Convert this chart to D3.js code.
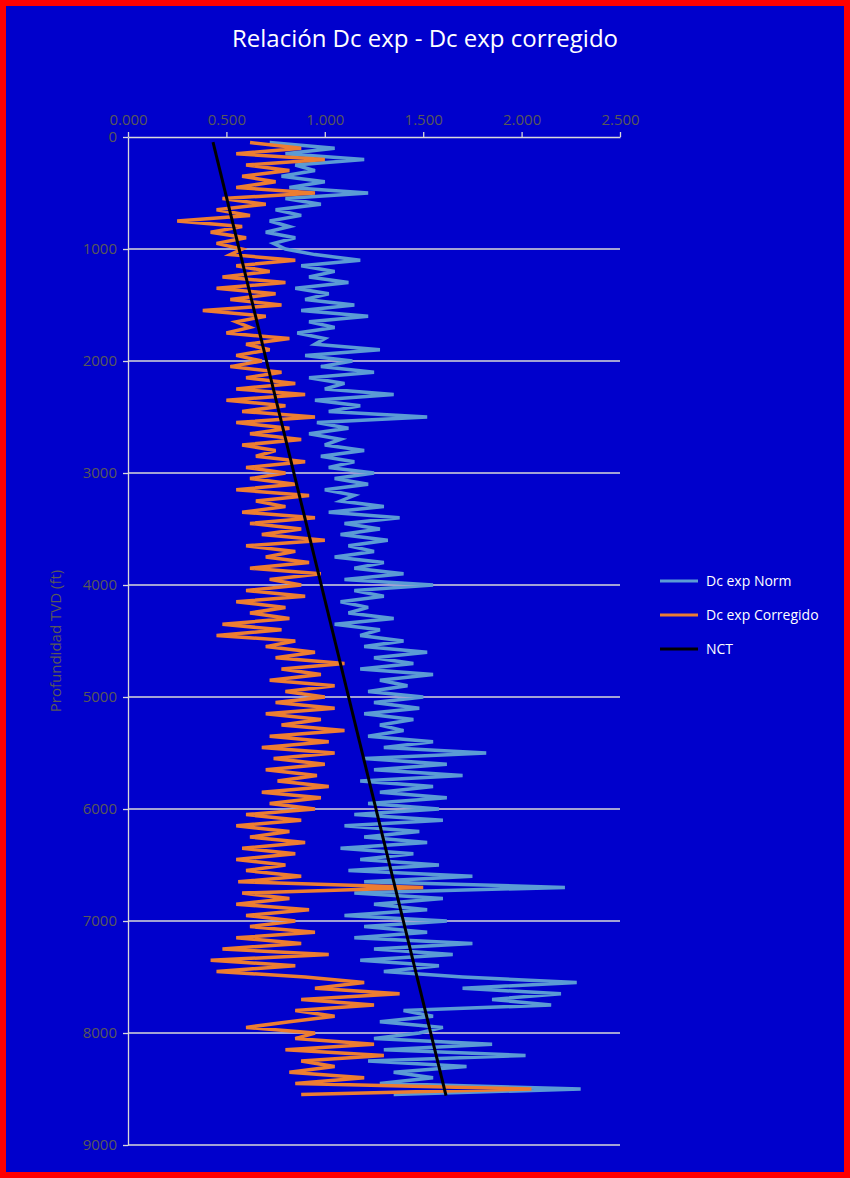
<!DOCTYPE html>
<html><head><meta charset="utf-8">
<script src="https://cdn.jsdelivr.net/npm/d3@7"></script>
<style>
body{margin:0;background:#fff;}
</style></head>
<body><div id="chart"></div>
<script>
// depths every 50 ft, 50..8550
const depths = d3.range(50, 8551, 50);
const dcNorm = [
  0.72,1.05,0.80,1.20,0.85,0.95,0.78,1.00,0.82,1.22,
  0.80,0.98,0.75,0.88,0.72,0.82,0.70,0.85,0.74,0.80,
  0.95,1.18,0.88,1.05,0.92,1.12,0.85,1.02,0.90,1.15,
  0.88,1.22,0.92,1.05,0.86,1.00,0.95,1.28,0.90,1.14,
  0.98,1.25,0.92,1.10,1.00,1.35,0.95,1.18,1.02,1.52,
  0.96,1.12,0.92,1.08,1.00,1.20,0.98,1.15,1.02,1.25,
  1.05,1.22,1.00,1.15,1.08,1.30,1.02,1.38,1.10,1.28,
  1.08,1.32,1.12,1.25,1.05,1.30,1.15,1.40,1.10,1.55,
  1.15,1.30,1.08,1.22,1.12,1.35,1.05,1.28,1.18,1.40,
  1.20,1.52,1.25,1.45,1.18,1.55,1.28,1.42,1.22,1.50,
  1.25,1.48,1.20,1.45,1.28,1.40,1.22,1.55,1.30,1.82,
  1.20,1.62,1.25,1.70,1.18,1.55,1.28,1.62,1.22,1.58,
  1.15,1.60,1.10,1.48,1.20,1.52,1.08,1.45,1.18,1.58,
  1.12,1.75,1.20,2.22,1.15,1.60,1.25,1.52,1.10,1.62,
  1.20,1.52,1.15,1.75,1.25,1.65,1.18,1.58,1.30,1.70,
  2.28,1.70,2.20,1.85,2.15,1.40,1.55,1.28,1.60,1.48,
  1.25,1.85,1.30,2.02,1.22,1.72,1.35,1.55,1.28,2.30,
  1.35
];
const dcCorr = [
  0.62,0.88,0.55,1.00,0.60,0.82,0.58,0.75,0.55,0.95,
  0.48,0.70,0.45,0.62,0.25,0.58,0.42,0.60,0.45,0.58,
  0.52,0.85,0.55,0.72,0.48,0.80,0.45,0.75,0.52,0.78,
  0.38,0.70,0.55,0.62,0.50,0.82,0.60,0.72,0.55,0.68,
  0.52,0.78,0.60,0.85,0.55,0.90,0.50,0.80,0.58,0.95,
  0.55,0.82,0.62,0.88,0.58,0.75,0.65,0.90,0.60,0.80,
  0.62,0.85,0.55,0.92,0.65,0.80,0.58,0.95,0.62,0.88,
  0.68,1.00,0.60,0.85,0.70,0.92,0.62,0.98,0.72,0.88,
  0.60,0.90,0.55,0.80,0.62,0.82,0.48,0.78,0.45,0.85,
  0.70,0.95,0.75,1.10,0.78,0.98,0.72,1.05,0.80,1.00,
  0.75,1.05,0.70,0.98,0.78,1.10,0.72,1.02,0.68,1.05,
  0.74,1.00,0.70,0.96,0.76,1.02,0.68,0.98,0.72,0.95,
  0.60,0.88,0.55,0.82,0.62,0.90,0.58,0.85,0.55,0.80,
  0.60,0.88,0.56,1.50,0.58,0.82,0.55,0.92,0.60,0.85,
  0.62,0.95,0.55,0.88,0.48,1.02,0.42,0.85,0.45,0.90,
  1.20,0.95,1.38,0.88,1.25,0.85,1.05,0.82,0.60,0.95,
  0.85,1.25,0.80,1.30,0.88,1.05,0.82,1.20,0.85,2.05,
  0.88
];
const nctDepths = [45, 8560];
const nctValues = [0.432, 1.616];
const xTicks = [0, 0.5, 1, 1.5, 2, 2.5];
const yTicks = [0,1000,2000,3000,4000,5000,6000,7000,8000,9000];
const seriesNames = ["Dc exp Norm", "Dc exp Corregido", "NCT"];
const seriesColors = ["#5B9BD5", "#ED7D31", "#000000"];

const W = 850, H = 1178;
const margin = { top: 137, left: 128, right: 230, bottom: 33 };
const width = W - margin.left - margin.right, height = H - margin.top - margin.bottom;

const svg = d3.select("#chart").append("svg").attr("width", W).attr("height", H);
svg.append("rect").attr("x", 3).attr("y", 3).attr("width", W - 6).attr("height", H - 6)
  .attr("fill", "#0000CC").attr("stroke", "#FF0000").attr("stroke-width", 6);

svg.append("text").attr("x", W / 2).attr("y", 47).attr("text-anchor", "middle")
  .attr("fill", "#fff").style("font", "24px 'Open Sans', sans-serif")
  .text("Relación Dc exp - Dc exp corregido");

const g = svg.append("g").attr("transform", `translate(${margin.left},${margin.top})`);
const x = d3.scaleLinear().domain([0, 2.5]).range([0, width]);
const y = d3.scaleLinear().domain([0, 9000]).range([0, height]);

// gridlines
g.selectAll(".grid").data(yTicks.slice(1)).join("line")
  .attr("x1", 0).attr("x2", width).attr("y1", d => y(d)).attr("y2", d => y(d))
  .attr("stroke", "#D9D9D9").attr("stroke-width", 1.3);

const fmt = d3.format(".3f");
const xa = g.append("g").call(d3.axisTop(x).tickValues(xTicks).tickFormat(fmt).tickSize(5).tickSizeOuter(0));
const ya = g.append("g").call(d3.axisLeft(y).tickValues(yTicks).tickSize(5).tickFormat(d3.format("d")).tickSizeOuter(0));
[xa, ya].forEach(a => {
  a.selectAll("path,line").attr("stroke", "#D9D9D9").attr("stroke-width", 1.3);
  a.selectAll("text").attr("fill", "#595959").style("font", "15px 'Open Sans', sans-serif");
});
xa.selectAll("text").attr("dy", "-0.3em");
ya.selectAll("text").attr("dx", "-0.2em");

svg.append("text").attr("transform", `translate(61,${margin.top + height / 2}) rotate(-90)`)
  .attr("text-anchor", "middle").attr("fill", "#595959")
  .style("font", "15px 'Open Sans', sans-serif").text("Profundidad TVD (ft)");

const line = d3.line().x(d => x(d[1])).y(d => y(d[0]));
g.append("path").datum(depths.map((d, i) => [d, dcNorm[i]]))
  .attr("d", line).attr("fill", "none").attr("stroke", seriesColors[0]).attr("stroke-width", 3.5);
g.append("path").datum(depths.map((d, i) => [d, dcCorr[i]]))
  .attr("d", line).attr("fill", "none").attr("stroke", seriesColors[1]).attr("stroke-width", 3.5);
g.append("path").datum(nctDepths.map((d, i) => [d, nctValues[i]]))
  .attr("d", line).attr("fill", "none").attr("stroke", seriesColors[2]).attr("stroke-width", 3);

const leg = svg.append("g").attr("transform", "translate(660,581)");
seriesNames.forEach((n, i) => {
  leg.append("line").attr("x1", 0).attr("x2", 38).attr("y1", i * 34).attr("y2", i * 34)
    .attr("stroke", seriesColors[i]).attr("stroke-width", 3);
  leg.append("text").attr("x", 46).attr("y", i * 34 + 5).attr("fill", "#fff")
    .style("font", "14px 'Open Sans', sans-serif").text(n);
});
</script></body></html>
